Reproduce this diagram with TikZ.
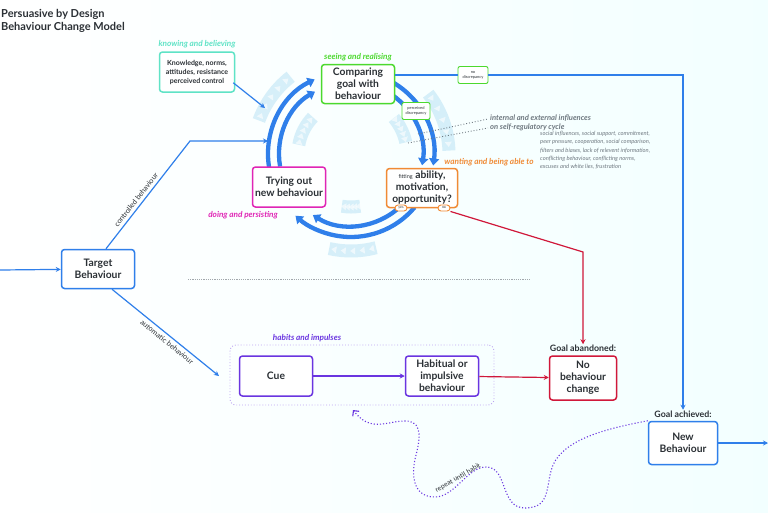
\documentclass[tikz,border=0pt]{standalone}
\usepackage{fontspec}
\setmainfont{Lato}
\usepackage{xcolor}
\usetikzlibrary{arrows.meta,positioning,calc,decorations.markings}

\definecolor{pbdblue}{HTML}{2F7FEA}
\definecolor{pbdteal}{HTML}{5FE3C6}
\definecolor{pbdgreen}{HTML}{4CD92E}
\definecolor{pbdorange}{HTML}{F08A35}
\definecolor{pbdpink}{HTML}{E025B5}
\definecolor{pbdpurple}{HTML}{6A35E0}
\definecolor{pbdred}{HTML}{D0183A}
\definecolor{pbdtext}{HTML}{2B3035}
\definecolor{pbdgrey}{HTML}{6E7880}
\definecolor{pbdlight}{HTML}{BFE5F5}

\begin{document}
\begin{tikzpicture}[
  x=1pt, y=-1pt,
  box/.style={rectangle, draw=#1, rounded corners=3pt, line width=1.5pt, fill=white, align=center, text=pbdtext, font=\bfseries\fontsize{10.3}{12}\selectfont, inner sep=2pt, minimum width=73pt, minimum height=40pt},
  smallbox/.style={rectangle, draw=#1, rounded corners=2pt, line width=0.9pt, fill=white, align=center, text=pbdtext, font=\fontsize{4}{4.8}\selectfont, inner sep=1.5pt},
  tag/.style={text=#1, font=\bfseries\itshape\fontsize{8.2}{9}\selectfont, inner sep=1pt},
  goal/.style={text=pbdtext, font=\bfseries\fontsize{8.8}{10}\selectfont, inner sep=1pt},
  path label/.style={text=pbdtext, font=\fontsize{7.3}{8}\selectfont, inner sep=0pt},
  arrow/.style={-{Stealth[length=5pt,width=5pt]}, line width=1.2pt},
  ring/.style={pbdblue, line width=4.3pt, -{Triangle[length=7pt,width=10pt]}},
  halo/.style={pbdlight, line width=13pt, opacity=0.6,
    postaction={decorate, decoration={markings, mark=between positions 0.1 and 0.95 step 0.2 with {\fill[white] (-2.5,-3.5) -- (2.5,0) -- (-2.5,3.5) -- cycle;}}}}
]
  \shade[left color=white, right color=cyan!5!white] (0,0) rectangle (768,512);
  \useasboundingbox (0,0) rectangle (768,512);

  \node[anchor=north west, align=left, inner sep=0pt, text=pbdtext, font=\bfseries\fontsize{11}{13.5}\selectfont] (title) at (1,9) {Persuasive by Design\\Behaviour Change Model};

  \coordinate (ctr) at (351,154);
  \draw[halo] ($(ctr)+(200:98)$) arc[start angle=200, end angle=232, radius=98];
  \draw[halo] ($(ctr)+(322:98)$) arc[start angle=322, end angle=358, radius=98];
  \draw[halo] ($(ctr)+(75:97)$) arc[start angle=75, end angle=103, radius=97];
  \draw[halo] ($(ctr)+(190:53)$) arc[start angle=190, end angle=224, radius=53];
  \draw[halo] ($(ctr)+(320:56)$) arc[start angle=320, end angle=348, radius=56];
  \draw[halo] ($(ctr)+(80:53)$) arc[start angle=80, end angle=100, radius=53];

  \draw[ring] ($(ctr)+(171:83)$) arc[start angle=171, end angle=244, radius=83];
  \draw[ring] ($(ctr)+(170:72)$) arc[start angle=170, end angle=240, radius=72];
  \draw[ring] ($(ctr)+(300:83)$) arc[start angle=300, end angle=368, radius=83];
  \draw[ring] ($(ctr)+(300:72)$) arc[start angle=300, end angle=369, radius=72];
  \draw[ring] ($(ctr)+(40:83)$) arc[start angle=40, end angle=132, radius=83];
  \draw[ring] ($(ctr)+(47:72)$) arc[start angle=47, end angle=122, radius=72];

  \node[box=pbdteal, minimum width=75pt, minimum height=40pt, font=\bfseries\fontsize{7}{9}\selectfont] (know) at (197,72) {Knowledge, norms,\\attitudes, resistance\\perceived control};
  \node[tag=pbdteal, above=2pt of know] (knowtag) {knowing and believing};
  \node[box=pbdgreen, minimum height=39pt] (compare) at (358,84) {Comparing\\goal with\\behaviour};
  \node[tag=pbdgreen, above=2pt of compare] (seetag) {seeing and realising};
  \node[smallbox=pbdgreen, minimum width=30pt, minimum height=17pt] (nodisc) at (473,75) {no\\discrepancy};
  \node[smallbox=pbdgreen, minimum width=28pt, minimum height=17pt] (percdisc) at (416,111) {perceived\\discrepancy};
  \node[box=pbdorange, minimum width=71pt, minimum height=39pt] (fit) at (422,188) {{\mdseries\fontsize{5.5}{6}\selectfont fitting} ability,\\motivation,\\opportunity?};
  \node[tag=pbdorange] (wanttag) at (489,162) {wanting and being able to};
  \node[smallbox=pbdorange, rounded corners=3pt, minimum width=12pt, minimum height=6pt, inner sep=0.5pt, font=\fontsize{3.5}{4}\selectfont] (yes) at (401,208) {yes};
  \node[smallbox=pbdorange, rounded corners=3pt, minimum width=12pt, minimum height=6pt, inner sep=0.5pt, font=\fontsize{3.5}{4}\selectfont] (no) at (444,208) {no};
  \node[box=pbdpink] (trying) at (289,187) {Trying out\\new behaviour};
  \node[tag=pbdpink] (dotag) at (243,215) {doing and persisting};

  \node[anchor=west, align=left, text=pbdgrey, font=\bfseries\itshape\fontsize{7.6}{9.5}\selectfont, inner sep=0pt] (infl) at (490,123) {internal and external influences\\on self-regulatory cycle};
  \node[anchor=north west, align=left, text=pbdgrey, font=\itshape\fontsize{5.8}{8.3}\selectfont, inner sep=0pt] (list) at (540,131) {social influences, social support, commitment,\\peer pressure, cooperation, social comparison,\\filters and biases, lack of relevent information,\\conflicting behaviour, conflicting norms,\\excuses and white lies, frustration};
  \coordinate (ringA) at (418,134);
  \coordinate (ringB) at (408,143);
  \draw[pbdgrey, dotted, line width=0.9pt] (ringA) -- ($(infl.west)+(-2,-4)$);
  \draw[pbdgrey, dotted, line width=0.9pt] (ringB) -- ($(infl.west)+(-2,5)$);

  \node[box=pbdblue, minimum height=39pt] (target) at (98,269) {Target\\Behaviour};
  \draw[pbdgrey!65, dash pattern=on 1.2pt off 1pt, line width=0.8pt] (188,279) -- (530,279);

  \node[draw=pbdpurple!45, dotted, line width=0.9pt, rounded corners=6pt, minimum width=264pt, minimum height=60pt] (habits) at (362,375) {};
  \node[tag=pbdpurple] (habtag) at (307,338) {habits and impulses};
  \node[box=pbdpurple] (cue) at (276,376) {Cue};
  \node[box=pbdpurple] (habit) at (442,376) {Habitual or\\impulsive\\behaviour};

  \node[box=pbdred, minimum width=67pt, minimum height=44pt] (nochange) at (583,378) {No\\behaviour\\change};
  \node[goal, above=2pt of nochange] (abandoned) {Goal abandoned:};
  \node[box=pbdblue, minimum width=69pt, minimum height=43pt] (newb) at (683,443) {New\\Behaviour};
  \node[goal, above=2pt of newb] (achieved) {Goal achieved:};

  \coordinate (in) at (0,270);
  \coordinate (kin) at (265,108);
  \coordinate (ctrlbend) at (190,141);
  \coordinate (ctrlend) at (268,141);
  \coordinate (autoend) at (219,376);
  \coordinate (redbend) at (583,252);
  \coordinate (out) at (768,443);
  \coordinate (repend) at (353,410);

  \draw[arrow, pbdblue] (in) -- (target);
  \draw[arrow, pbdblue] ($(know.south east)+(-2,-10)$) -- (kin);
  \draw[arrow, pbdblue] ([xshift=8pt]target.north) -- (ctrlbend) -- (ctrlend);
  \node[path label, rotate=52] (ctrltag) at (136,200) {controlled behaviour};
  \draw[arrow, pbdblue] ([xshift=14pt]target.south) -- (autoend);
  \node[path label, rotate=-39] (autotag) at (167,342) {automatic behaviour};
  \draw[pbdblue, line width=1.2pt] (compare.east |- nodisc) -- (nodisc);
  \draw[arrow, pbdblue] (nodisc) -| (achieved.north);
  \draw[arrow, pbdred] (no.south east) -- (redbend) -- (abandoned.north);
  \draw[arrow, pbdpurple] (cue) -- (habit);
  \draw[arrow, pbdred] (habit) -- (nochange);
  \draw[arrow, pbdblue] (newb) -- (out);
  \draw[pbdpurple, dotted, line width=1.1pt, -{Straight Barb[length=4pt,width=8pt]}] (newb.north west)
    .. controls (610,428) and (565,438) .. (553,465)
    .. controls (545,485) and (552,508) .. (525,508)
    .. controls (500,508) and (508,468) .. (487,467)
    .. controls (468,466) and (455,497) .. (435,497)
    .. controls (410,497) and (412,470) .. (416,455)
    .. controls (422,432) and (420,420) .. (403,421)
    .. controls (385,422) and (370,432) .. (repend);
  \node[path label, rotate=30, font=\fontsize{6.8}{7}\selectfont] (reptag) at (458,478) {repeat until habit};
\end{tikzpicture}
\end{document}
